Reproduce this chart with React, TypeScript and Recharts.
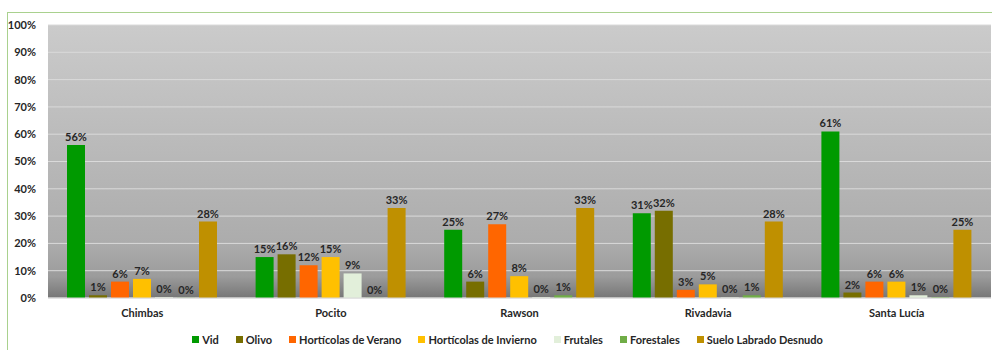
import {
  BarChart,
  Bar,
  XAxis,
  YAxis,
  CartesianGrid,
  Legend,
  LabelList,
} from 'recharts';

const departments = ['Chimbas', 'Pocito', 'Rawson', 'Rivadavia', 'Santa Lucía'];

const vid = [56, 15, 25, 31, 61];
const olivo = [1, 16, 6, 32, 2];
const horticolasVerano = [6, 12, 27, 3, 6];
const horticolasInvierno = [7, 15, 8, 5, 6];
const frutales = [0.3, 9, 0.3, 0.2, 1];
const forestales = [0.1, 0.1, 1, 1, 0.3];
const sueloDesnudo = [28, 33, 33, 28, 25];

const yTicks = [0, 10, 20, 30, 40, 50, 60, 70, 80, 90, 100];

const series = [
  { key: 'vid', name: 'Vid', values: vid, color: '#009a00' },
  { key: 'olivo', name: 'Olivo', values: olivo, color: '#776e00' },
  { key: 'hv', name: 'Hortícolas de Verano', values: horticolasVerano, color: '#ff6600' },
  { key: 'hi', name: 'Hortícolas de Invierno', values: horticolasInvierno, color: '#ffc000' },
  { key: 'frutales', name: 'Frutales', values: frutales, color: '#e2efda' },
  { key: 'forestales', name: 'Forestales', values: forestales, color: '#70ad47' },
  { key: 'suelo', name: 'Suelo Labrado Desnudo', values: sueloDesnudo, color: '#bf9000' },
];

const chartData = departments.map((dep, i) => {
  const row: Record<string, string | number> = { name: dep };
  series.forEach((s) => {
    row[s.key] = s.values[i];
  });
  return row;
});

const font = 'Lato, "Noto Sans", sans-serif';

// legend in series order (recharts sorts by name otherwise)
function SeriesLegend() {
  return (
    <div
      style={{
        display: 'flex',
        justifyContent: 'center',
        gap: 17,
        fontSize: 11,
        fontWeight: 700,
        color: '#262626',
        fontFamily: font,
        paddingLeft: 24,
      }}
    >
      {series.map((s) => (
        <span key={s.key} style={{ display: 'flex', alignItems: 'center', gap: 3 }}>
          <span style={{ width: 7, height: 7, background: s.color, display: 'inline-block' }} />
          {s.name}
        </span>
      ))}
    </div>
  );
}

export default function App() {
  return (
    <div
      style={{
        position: 'absolute',
        left: 0,
        top: 0,
        width: 992,
        height: 350,
        overflow: 'hidden',
        background: '#ffffff',
        fontFamily: font,
      }}
    >
      {/* chart frame, cropped on the right and bottom */}
      <div
        style={{
          position: 'absolute',
          left: 7,
          top: 12,
          width: 1100,
          height: 400,
          borderLeft: '1px solid #a9d18e',
          borderTop: '1px solid #a9d18e',
        }}
      />
      <div style={{ position: 'absolute', left: 0, top: 0 }}>
        <BarChart
          width={992}
          height={350}
          data={chartData}
          margin={{ top: 25, right: 1, left: 0, bottom: 4 }}
          barCategoryGap={16}
          barGap={4}
          barSize={18}
        >
          <defs>
            <linearGradient id="plotBg" x1="0" y1="0" x2="0" y2="1">
              <stop offset="0%" stopColor="#cbcbcb" />
              <stop offset="80%" stopColor="#acacac" />
              <stop offset="92%" stopColor="#9c9c9c" />
              <stop offset="100%" stopColor="#767676" />
            </linearGradient>
          </defs>
          <CartesianGrid
            vertical={false}
            fill="url(#plotBg)"
            stroke="#dadada"
            strokeWidth={1}
          />
          <XAxis
            dataKey="name"
            axisLine={{ stroke: '#d9d9d9' }}
            tickLine={false}
            tickMargin={5}
            height={35}
            tick={{ fontSize: 11, fontWeight: 700, fill: '#262626', fontFamily: font }}
          />
          <YAxis
            width={48}
            domain={[0, 100]}
            ticks={yTicks}
            interval={0}
            axisLine={false}
            tickLine={false}
            tickMargin={6}
            tickFormatter={(v) => `${v}%`}
            tick={{ fontSize: 11, fontWeight: 700, fill: '#262626', fontFamily: font }}
          />
          <Legend verticalAlign="bottom" content={() => <SeriesLegend />} />
          {series.map((s) => (
            <Bar
              key={s.key}
              dataKey={s.key}
              name={s.name}
              fill={s.color}
              isAnimationActive={false}
            >
              <LabelList
                dataKey={s.key}
                position="top"
                offset={4}
                formatter={(v: any) => `${Math.round(Number(v))}%`}
                style={{ fontSize: 11, fontWeight: 700, fill: '#262626', fontFamily: font }}
              />
            </Bar>
          ))}
        </BarChart>
      </div>
    </div>
  );
}
